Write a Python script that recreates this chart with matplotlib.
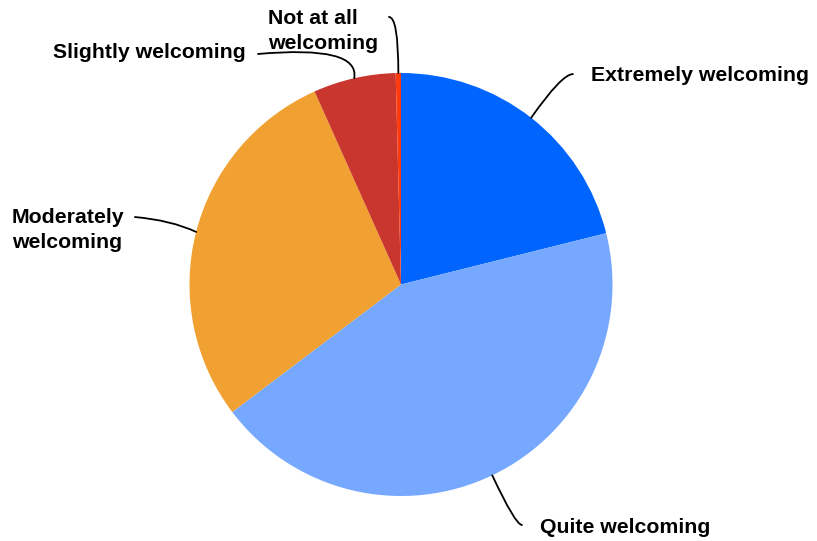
import matplotlib.pyplot as plt
import numpy as np

# How welcoming respondents found it (share of answers, %)
labels = ["Extremely welcoming", "Quite welcoming", "Moderately\nwelcoming",
          "Slightly welcoming", "Not at all\nwelcoming"]
shares = [21.1, 43.6, 28.6, 6.3, 0.4]
colors = ["#0064FF", "#77A8FF", "#F1A131", "#C8362D", "#FF3A0F"]

# label text anchor (left edge, vertical centre) and start of the leader line
text_pos = [(0.898, 0.990), (0.657, -1.147), (-1.839, 0.258),
            (-1.645, 1.095), (-0.629, 1.199)]
line_start = [(0.813, 0.995), (0.572, -1.137), (-1.258, 0.319),
              (-0.676, 1.090), (-0.057, 1.265)]
leader_style = ["angle3,angleA=0,angleB=55",
                "angle3,angleA=0,angleB=-65",
                "angle3,angleA=-5,angleB=-25",
                "angle3,angleA=5,angleB=80",
                "angle3,angleA=0,angleB=90"]

plt.rcParams['font.family'] = ['Liberation Sans', 'DejaVu Sans']

fig = plt.figure(figsize=(8.17, 5.41), dpi=100)
ax = fig.add_axes([0, 0, 1, 1])

wedges, _ = ax.pie(shares, colors=colors, startangle=90, counterclock=False,
                   radius=1, wedgeprops=dict(linewidth=0))

for w, lab, tp, ls, cs in zip(wedges, labels, text_pos, line_start, leader_style):
    mid = np.deg2rad((w.theta1 + w.theta2) / 2)
    edge = (np.cos(mid), np.sin(mid))
    ax.annotate("", xy=edge, xytext=ls,
                arrowprops=dict(arrowstyle='-', connectionstyle=cs,
                                shrinkA=0, shrinkB=0, lw=1.3, color="black"))
    ax.text(tp[0], tp[1], lab, ha='left', va='center', fontsize=15.3,
            fontweight='bold', color="black", linespacing=1.4)

ax.set_xlim(-401 / 211.5, (817 - 401) / 211.5)
ax.set_ylim((284.5 - 541) / 211.5, 284.5 / 211.5)
ax.set_aspect('equal')
ax.axis('off')

fig.savefig("out.png", dpi=100)
